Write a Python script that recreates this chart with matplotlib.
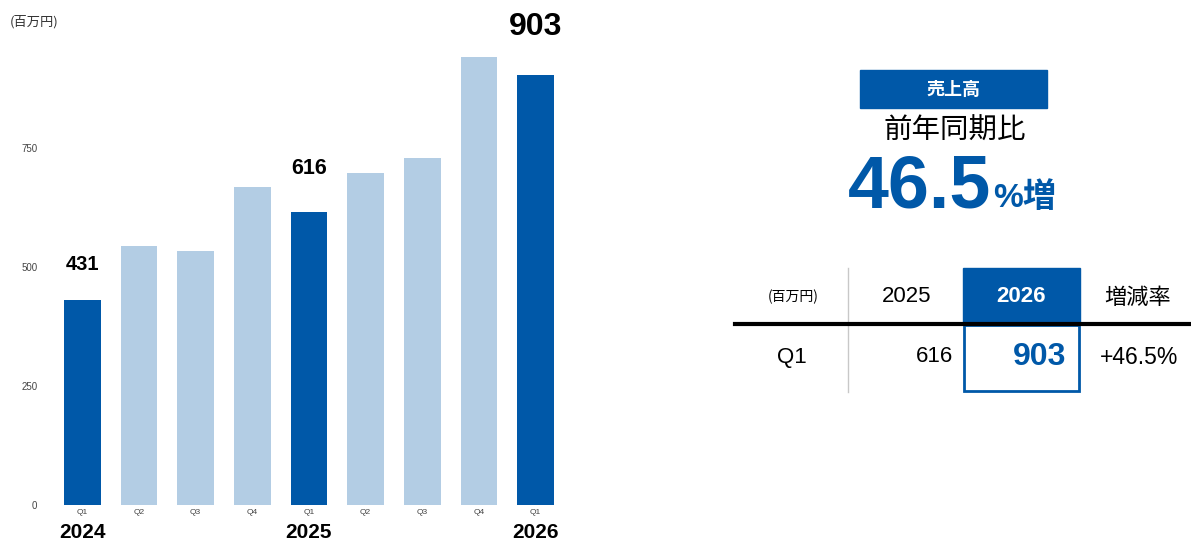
import matplotlib
matplotlib.use("Agg")
import matplotlib.pyplot as plt
from matplotlib.patches import Rectangle
from matplotlib.transforms import blended_transform_factory
from matplotlib import font_manager

# Quarterly net sales (million yen)
quarters = ["Q1", "Q2", "Q3", "Q4", "Q1", "Q2", "Q3", "Q4", "Q1"]
years = ["2024", "", "", "", "2025", "", "", "", "2026"]
sales = [431, 544, 534, 668, 616, 697, 729, 941, 903]
highlight = [True, False, False, False, True, False, False, False, True]
labelled = [0, 4, 8]
yticks = [0, 250, 500, 750]

# Year-over-year summary table
table_header = ["(百万円)", "2025", "2026", "増減率"]
table_row = ["Q1", "616", "903", "+46.5%"]
growth = "46.5"

DARK = "#0058A8"
LIGHT = "#B3CDE4"
W, H = 1191, 541

installed = {f.name for f in font_manager.fontManager.ttflist}
NARROW = "Liberation Sans Narrow" if "Liberation Sans Narrow" in installed else "Liberation Sans"
LAT = ["Liberation Sans", "Noto Sans CJK JP"]
JP = ["Noto Sans CJK JP", "Liberation Sans"]

# per-label style: (font size, baseline offset in points)
label_style = {0: (14.5, 21.5), 4: (15.5, 27), 8: (23, 29)}

fig = plt.figure(figsize=(W / 100, H / 100), dpi=100)


def fx(px):
    return px / W


def fy(py):
    return 1 - py / H


# ---- bar chart ----
ax = fig.add_axes([fx(54), fy(505), fx(564) - fx(54), 476 / H])
xs = list(range(len(sales)))
colors = [DARK if h else LIGHT for h in highlight]
ax.bar(xs, sales, width=0.65, color=colors)
ax.set_xlim(-0.5, len(sales) - 0.5)
ax.set_ylim(0, 1000)
ax.set_yticks(yticks)
ax.set_yticklabels([str(t) for t in yticks], fontsize=7, color="#444444", family=LAT)
ax.set_xticks(xs)
ax.set_xticklabels(quarters, fontsize=6, color="#444444", family=LAT)
ax.tick_params(axis="both", length=0)
ax.tick_params(axis="y", pad=12)
ax.tick_params(axis="x", pad=3)
for s in ax.spines.values():
    s.set_visible(False)

for i in labelled:
    size, off = label_style[i]
    ax.annotate(str(sales[i]), (i, sales[i]), xytext=(0, off),
                textcoords="offset points", ha="center", va="baseline",
                fontsize=size, fontweight="bold", family=LAT)

trans = blended_transform_factory(ax.transData, fig.transFigure)
for i, yr in enumerate(years):
    if yr:
        ax.text(i, fy(532), yr, transform=trans, ha="center", va="center",
                fontsize=15, fontweight="bold", family=NARROW)

fig.text(fx(10), fy(22), "(百万円)", fontsize=9.5, family=JP, va="center", ha="left",
         color="#333333")

# ---- summary panel ----
fig.patches.append(Rectangle((fx(860), fy(108)), fx(1047) - fx(860), (108 - 70) / H,
                             transform=fig.transFigure, color=DARK))
fig.text(fx(953), fy(89), "売上高", color="white", fontsize=13, fontweight="bold",
         family=JP, ha="center", va="center")
fig.text(fx(955), fy(131), "前年同期比", fontsize=20.5, family=JP, ha="center", va="center")
fig.text(fx(991), fy(188), growth, fontsize=53, fontweight="bold", family=LAT,
         color=DARK, ha="right", va="center")
fig.text(fx(993), fy(198), "%増", fontsize=24, fontweight="bold", family=LAT,
         color=DARK, ha="left", va="center")

# table lines
fig.add_artist(plt.Line2D([fx(848), fx(848)], [fy(268), fy(392)],
                          transform=fig.transFigure, color="#C8C8C8", lw=1))
fig.add_artist(plt.Line2D([fx(735), fx(1191)], [fy(324), fy(324)],
                          transform=fig.transFigure, color="black", lw=3))
fig.patches.append(Rectangle((fx(963), fy(323)), fx(1080) - fx(963), (323 - 268) / H,
                             transform=fig.transFigure, color=DARK))
fig.patches.append(Rectangle((fx(964), fy(391)), fx(1079) - fx(964), (391 - 325) / H,
                             transform=fig.transFigure, fill=False,
                             edgecolor=DARK, lw=2))

hy, ry = fy(297), fy(357)
fig.text(fx(793), hy, table_header[0], fontsize=10, family=JP, ha="center", va="center")
fig.text(fx(907), hy, table_header[1], fontsize=16, family=LAT, ha="center", va="center")
fig.text(fx(1021), hy, table_header[2], fontsize=16, fontweight="bold", family=LAT,
         color="white", ha="center", va="center")
fig.text(fx(1138), hy, table_header[3], fontsize=16, family=JP, ha="center", va="center")

fig.text(fx(792), ry, table_row[0], fontsize=16, family=LAT, ha="center", va="center")
fig.text(fx(953), ry, table_row[1], fontsize=16, family=LAT, ha="right", va="center")
fig.text(fx(1066), ry, table_row[2], fontsize=23, fontweight="bold", family=LAT,
         color=DARK, ha="right", va="center")
fig.text(fx(1139), ry, table_row[3], fontsize=16.5, family=LAT, ha="center", va="center")

fig.savefig("out.png", dpi=100)
